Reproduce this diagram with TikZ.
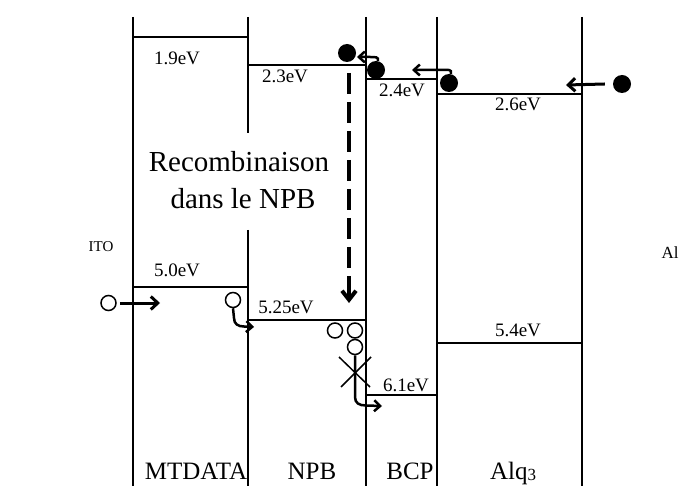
\documentclass[tikz,border=0pt]{standalone}
\usepackage{fontspec}
\setmainfont{Liberation Serif}
\usetikzlibrary{arrows.meta}
\begin{document}
\begin{tikzpicture}[x=1pt,y=-1pt,
  wall/.style={line width=1.5pt},
  lvl/.style={line width=1.5pt},
  ev/.style={font=\fontsize{19}{22}\selectfont, inner sep=0pt},
  lay/.style={font=\fontsize{25}{30}\selectfont, inner sep=0pt, anchor=base},
  rec/.style={font=\fontsize{29}{34}\selectfont, inner sep=0pt, anchor=base},
  electron/.style={circle, fill=black, minimum size=18pt, inner sep=0pt},
  hole/.style={circle, draw=black, line width=1.5pt, minimum size=15pt, inner sep=0pt},
  mv/.style={line width=3pt, -{Straight Barb[length=7pt,width=13pt]}},
  mvc/.style={line width=2.5pt, -{Straight Barb[length=6pt,width=11pt]}},
  recarrow/.style={line width=4pt, dash pattern=on 21pt off 8pt, -{Straight Barb[length=9pt,width=14pt]}},
]
\useasboundingbox (0,0) rectangle (682,486);

% layer walls
\draw[wall] (133,17) -- (133,486);
\draw[wall] (248,17) -- (248,133);
\draw[wall] (248,230) -- (248,486);
\draw[wall] (366,17) -- (366,486);
\draw[wall] (437,17) -- (437,486);
\draw[wall] (582,17) -- (582,486);

% LUMO levels
\draw[lvl] (133,37) -- (248,37);
\draw[lvl] (248,65) -- (366,65);
\draw[lvl] (366,79) -- (437,79);
\draw[lvl] (437,94) -- (582,94);
% HOMO levels
\draw[lvl] (133,287) -- (248,287);
\draw[lvl] (248,320) -- (366,320);
\draw[lvl] (437,343) -- (582,343);
\draw[lvl] (366,395) -- (437,395);

% energy labels
\node[ev] (l19) at (177,58) {1.9eV};
\node[ev] (l23) at (285,76) {2.3eV};
\node[ev] (l24) at (402,90) {2.4eV};
\node[ev] (l26) at (518,104) {2.6eV};
\node[ev] (l50) at (177,270) {5.0eV};
\node[ev] (l525) at (286,307) {5.25eV};
\node[ev] (l54) at (518,330) {5.4eV};
\node[ev] (l61) at (406,385) {6.1eV};

% layer names
\node[lay] (nm) at (196,479) {MTDATA};
\node[lay] (nn) at (312,479) {NPB};
\node[lay] (nb) at (410,479) {BCP};
\node[lay] (na) at (513,479) {Alq\raisebox{-1.5pt}{\fontsize{17}{20}\selectfont 3}};

% electrodes
\node[font=\fontsize{15}{17}\selectfont, inner sep=0pt] (ito) at (101,247) {ITO};
\node[font=\fontsize{17}{19}\selectfont, inner sep=0pt] (al) at (670,253) {Al};

% recombination text
\node[rec] (r1) at (239,172) {Recombinaison};
\node[rec] (r2) at (243,209) {dans le NPB};

% recombination dashed arrow
\coordinate (ds) at (349,73);
\coordinate (de) at (349,303);
\draw[recarrow] (ds) -- (de);

% electrons
\node[electron] (e1) at (347,53) {};
\node[electron] (e2) at (376,70) {};
\node[electron] (e3) at (449,83) {};
\node[electron] (e4) at (622,84) {};
\coordinate (t4) at (566,85);
\coordinate (t3) at (412,70);
\coordinate (t2) at (357,57);
\draw[mv] ([xshift=-8pt]e4.west) -- (t4);
\draw[mvc] ([xshift=2pt]e3.north) .. controls +(1,-5) and +(6,0) .. (442,70) -- (t3);
\draw[mvc] ([xshift=2pt]e2.north) .. controls +(1,-4) and +(5,0) .. (370,57) -- (t2);

% holes
\node[hole] (h1) at (108.5,303) {};
\node[hole] (h2) at (233,300) {};
\node[hole] (h3) at (335,330.5) {};
\node[hole] (h4) at (355,330.5) {};
\node[hole] (h5) at (355,347) {};
\coordinate (u1) at (160,303);
\coordinate (u2) at (254,327);
\coordinate (u5) at (382,406);
\draw[mv] ([xshift=3pt]h1.east) -- (u1);
\draw[mvc] (h2.south) -- (234,318) .. controls (234,324) and (238,326.5) .. (244,326.5) -- (u2);
\draw[mvc] (h5.south) -- (355,397) .. controls (355,403) and (359,405.5) .. (366,405.5) -- (u5);

% blocking cross
\draw[lvl] (339,357) -- (370,387);
\draw[lvl] (371,357) -- (341,387);
\end{tikzpicture}
\end{document}
